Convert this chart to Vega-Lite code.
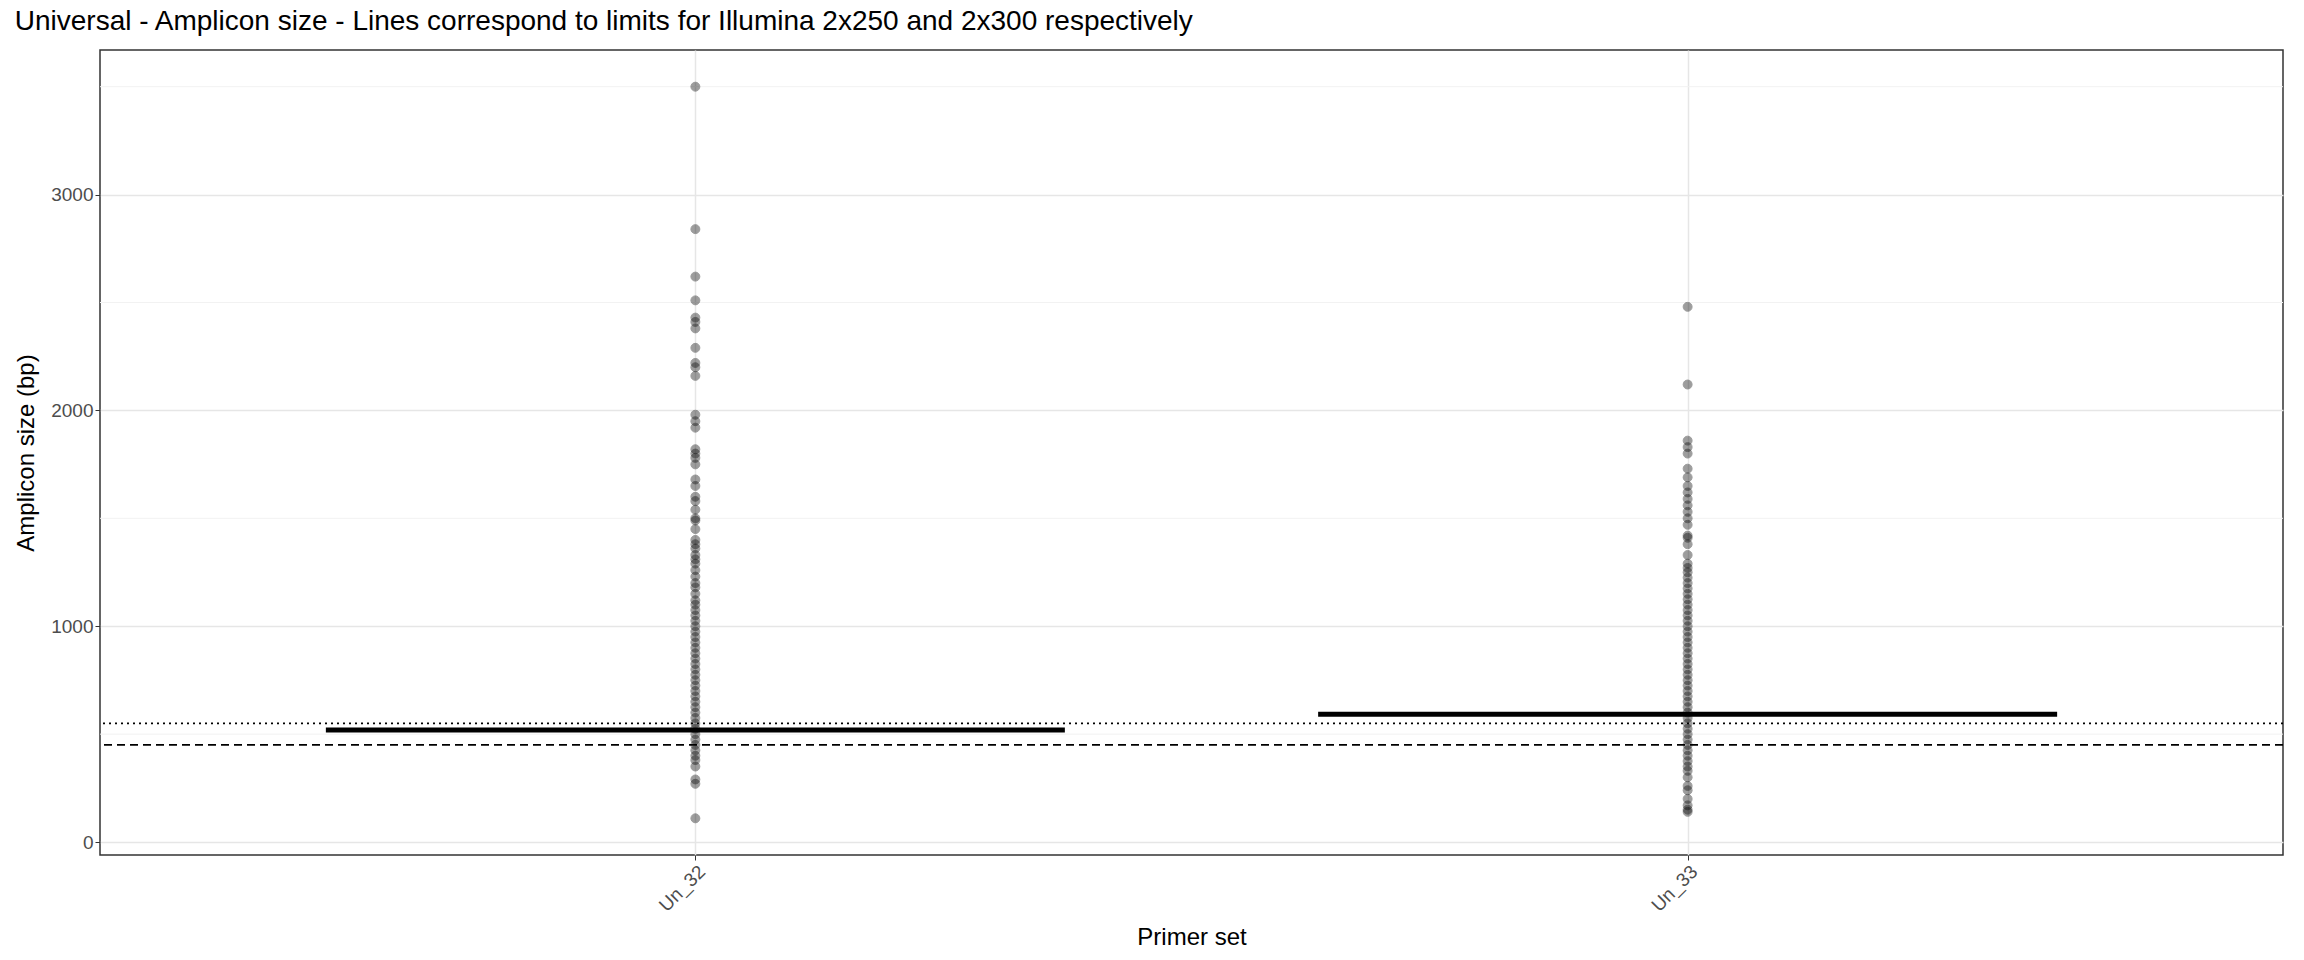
{
  "$schema": "https://vega.github.io/schema/vega-lite/v6.json",
  "width": 2304,
  "height": 960,
  "autosize": {"type": "fit", "contains": "padding"},
  "padding": {"left": 14, "right": 20, "top": 8, "bottom": 10},
  "title": {"text": "Universal - Amplicon size - Lines correspond to limits for Illumina 2x250 and 2x300 respectively", "anchor": "start", "fontSize": 28, "font": "Liberation Sans", "fontWeight": "normal", "color": "#000", "offset": 14},
  "config": {
    "view": {"stroke": "#333", "strokeWidth": 1.5},
    "font": "Liberation Sans",
    "axis": {"gridColor": "#e6e6e6", "gridWidth": 1.5, "labelFontSize": 19, "labelColor": "#4d4d4d", "titleFontSize": 24, "titleFontWeight": "normal", "titleColor": "#000", "tickColor": "#333", "domain": false}
  },
  "datasets": {
    "pts": [
      {"p":"Un_32","v":110},{"p":"Un_32","v":270},{"p":"Un_32","v":290},{"p":"Un_32","v":350},{"p":"Un_32","v":380},
      {"p":"Un_32","v":400},{"p":"Un_32","v":425},{"p":"Un_32","v":450},{"p":"Un_32","v":475},{"p":"Un_32","v":500},{"p":"Un_32","v":525},{"p":"Un_32","v":550},{"p":"Un_32","v":575},{"p":"Un_32","v":600},{"p":"Un_32","v":625},{"p":"Un_32","v":650},{"p":"Un_32","v":675},{"p":"Un_32","v":700},{"p":"Un_32","v":725},{"p":"Un_32","v":750},{"p":"Un_32","v":775},{"p":"Un_32","v":800},{"p":"Un_32","v":825},{"p":"Un_32","v":850},{"p":"Un_32","v":875},{"p":"Un_32","v":900},{"p":"Un_32","v":925},{"p":"Un_32","v":950},{"p":"Un_32","v":975},{"p":"Un_32","v":1000},{"p":"Un_32","v":1025},{"p":"Un_32","v":1050},{"p":"Un_32","v":1075},{"p":"Un_32","v":1100},
      {"p":"Un_32","v":1120},{"p":"Un_32","v":1150},{"p":"Un_32","v":1180},{"p":"Un_32","v":1200},{"p":"Un_32","v":1230},{"p":"Un_32","v":1260},{"p":"Un_32","v":1290},{"p":"Un_32","v":1310},{"p":"Un_32","v":1330},{"p":"Un_32","v":1360},{"p":"Un_32","v":1380},{"p":"Un_32","v":1400},{"p":"Un_32","v":1450},{"p":"Un_32","v":1490},{"p":"Un_32","v":1500},{"p":"Un_32","v":1540},{"p":"Un_32","v":1580},{"p":"Un_32","v":1600},{"p":"Un_32","v":1650},{"p":"Un_32","v":1680},{"p":"Un_32","v":1750},{"p":"Un_32","v":1780},{"p":"Un_32","v":1800},{"p":"Un_32","v":1820},{"p":"Un_32","v":1920},{"p":"Un_32","v":1950},{"p":"Un_32","v":1980},{"p":"Un_32","v":2160},{"p":"Un_32","v":2200},{"p":"Un_32","v":2220},{"p":"Un_32","v":2290},{"p":"Un_32","v":2380},{"p":"Un_32","v":2410},{"p":"Un_32","v":2430},{"p":"Un_32","v":2510},{"p":"Un_32","v":2620},{"p":"Un_32","v":2840},{"p":"Un_32","v":3500},
      {"p":"Un_33","v":140},{"p":"Un_33","v":150},{"p":"Un_33","v":170},{"p":"Un_33","v":200},{"p":"Un_33","v":240},{"p":"Un_33","v":260},{"p":"Un_33","v":300},{"p":"Un_33","v":330},
      {"p":"Un_33","v":350},{"p":"Un_33","v":375},{"p":"Un_33","v":400},{"p":"Un_33","v":425},{"p":"Un_33","v":450},{"p":"Un_33","v":475},{"p":"Un_33","v":500},{"p":"Un_33","v":525},{"p":"Un_33","v":550},{"p":"Un_33","v":575},{"p":"Un_33","v":600},{"p":"Un_33","v":625},{"p":"Un_33","v":650},{"p":"Un_33","v":675},{"p":"Un_33","v":700},{"p":"Un_33","v":725},{"p":"Un_33","v":750},{"p":"Un_33","v":775},{"p":"Un_33","v":800},{"p":"Un_33","v":825},{"p":"Un_33","v":850},{"p":"Un_33","v":875},{"p":"Un_33","v":900},{"p":"Un_33","v":925},{"p":"Un_33","v":950},{"p":"Un_33","v":975},{"p":"Un_33","v":1000},{"p":"Un_33","v":1025},{"p":"Un_33","v":1050},{"p":"Un_33","v":1075},{"p":"Un_33","v":1100},{"p":"Un_33","v":1125},{"p":"Un_33","v":1150},{"p":"Un_33","v":1175},{"p":"Un_33","v":1200},{"p":"Un_33","v":1225},{"p":"Un_33","v":1250},{"p":"Un_33","v":1270},
      {"p":"Un_33","v":1290},{"p":"Un_33","v":1330},{"p":"Un_33","v":1380},{"p":"Un_33","v":1410},{"p":"Un_33","v":1420},{"p":"Un_33","v":1470},{"p":"Un_33","v":1500},{"p":"Un_33","v":1530},{"p":"Un_33","v":1560},{"p":"Un_33","v":1590},{"p":"Un_33","v":1620},{"p":"Un_33","v":1650},{"p":"Un_33","v":1690},{"p":"Un_33","v":1730},{"p":"Un_33","v":1800},{"p":"Un_33","v":1830},{"p":"Un_33","v":1860},{"p":"Un_33","v":2120},{"p":"Un_33","v":2480}
    ],
    "med": [{"p":"Un_32","m":519},{"p":"Un_33","m":592}],
    "minor": [{"g":500},{"g":1500},{"g":2500},{"g":3500}],
    "limits": [{"lim":550,"kind":"2x300"},{"lim":450,"kind":"2x250"}]
  },
  "layer": [
    {
      "data": {"name": "minor"},
      "mark": {"type": "rule", "color": "#f2f2f2", "strokeWidth": 1},
      "encoding": {"y": {"field": "g", "type": "quantitative"}}
    },
    {
      "data": {"name": "pts"},
      "mark": {"type": "circle", "size": 80, "color": "#000", "opacity": 0.38, "stroke": "#000", "strokeWidth": 1},
      "encoding": {
        "x": {"field": "p", "type": "nominal", "title": "Primer set", "scale": {"type": "point", "padding": 0.6},
          "axis": {"labelAngle": -45, "labelAlign": "right", "labelBaseline": "top", "grid": true, "titlePadding": 10}},
        "y": {"field": "v", "type": "quantitative", "title": "Amplicon size (bp)", "scale": {"domain": [-60, 3670], "nice": false, "zero": false},
          "axis": {"values": [0, 1000, 2000, 3000], "format": "d", "grid": true, "titlePadding": 12}}
      }
    },
    {
      "data": {"name": "med"},
      "mark": {"type": "tick", "color": "#000", "opacity": 1, "size": 739, "thickness": 5},
      "encoding": {
        "x": {"field": "p", "type": "nominal"},
        "y": {"field": "m", "type": "quantitative"}
      }
    },
    {
      "data": {"name": "limits"},
      "transform": [{"filter": "datum.kind == '2x300'"}],
      "mark": {"type": "rule", "color": "#000", "strokeDash": [2, 4], "strokeWidth": 1.8},
      "encoding": {"y": {"field": "lim", "type": "quantitative"}}
    },
    {
      "data": {"name": "limits"},
      "transform": [{"filter": "datum.kind == '2x250'"}],
      "mark": {"type": "rule", "color": "#000", "strokeDash": [8, 5], "strokeWidth": 1.8},
      "encoding": {"y": {"field": "lim", "type": "quantitative"}}
    }
  ]
}
